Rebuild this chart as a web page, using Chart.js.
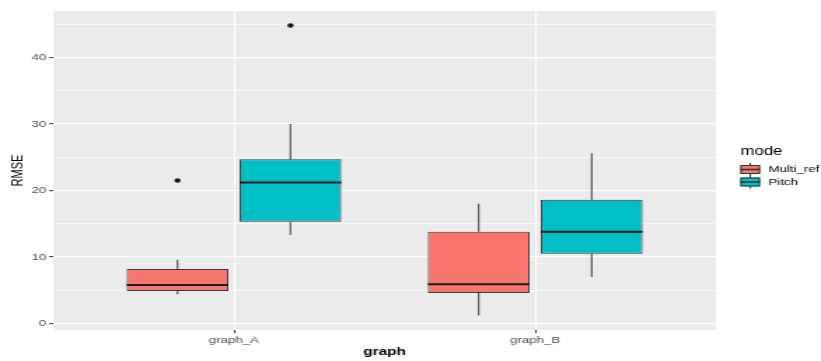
<!DOCTYPE html>
<html>
<head>
<meta charset="utf-8">
<script src="https://cdn.jsdelivr.net/npm/chart.js@4/dist/chart.umd.min.js"></script>
<style>
  html, body { margin: 0; padding: 0; background: #ffffff; overflow: hidden; }
  #wrap { width: 821px; height: 361px; overflow: hidden; position: relative; }
  #c { position: absolute; left: 0; top: 0; transform: scaleX(1.40102); transform-origin: 0 0; }
</style>
</head>
<body>
<div id="wrap"><canvas id="c" width="586" height="361"></canvas></div>
<script>
// ---- data ----
const categories = ['graph_A', 'graph_B'];
const modes = ['Multi_ref', 'Pitch'];
const modeColors = ['#F8766D', '#00BFC4'];

const multiLow     = [4.4, 1.2];
const multiQ1      = [4.9, 4.6];
const multiMedian  = [5.8, 5.9];
const multiQ3      = [8.2, 13.8];
const multiHigh    = [9.6, 18.0];
const multiOutliers = [[21.5], []];

const pitchLow     = [13.3, 7.0];
const pitchQ1      = [15.3, 10.5];
const pitchMedian  = [21.2, 13.8];
const pitchQ3      = [24.7, 18.6];
const pitchHigh    = [30.0, 25.6];
const pitchOutliers = [[44.8], []];

const yTicks = [0, 10, 20, 30, 40];
const yMinorTicks = [5, 15, 25, 35, 45];

// ---- assembled series ----
const stats = [
  { low: multiLow, q1: multiQ1, med: multiMedian, q3: multiQ3, high: multiHigh, out: multiOutliers },
  { low: pitchLow, q1: pitchQ1, med: pitchMedian, q3: pitchQ3, high: pitchHigh, out: pitchOutliers }
];

// ggplot-like dodge: 0.75 dodge width split into the modes
const dodge = 0.75;
const slot = dodge / modes.length;
function xPos(catIdx, modeIdx) {
  return (catIdx + 1) - dodge / 2 + slot * (modeIdx + 0.5);
}

// y range with 5% expansion like ggplot
const allVals = [];
stats.forEach(s => { s.low.forEach(v => allVals.push(v)); s.high.forEach(v => allVals.push(v)); s.out.forEach(a => a.forEach(v => allVals.push(v))); });
const dMin = Math.min(...allVals), dMax = Math.max(...allVals);
const yMin = dMin - 0.05 * (dMax - dMin);
const yMax = dMax + 0.05 * (dMax - dMin);

const FONT = "'Liberation Sans', Arial, Helvetica, sans-serif";

const datasets = [];
stats.forEach((s, m) => {
  datasets.push({
    type: 'bar',
    label: modes[m],
    data: categories.map((c, i) => ({ x: xPos(i, m), y: [s.q1[i], s.q3[i]] })),
    backgroundColor: modeColors[m],
    borderColor: '#3a3a3a',
    borderWidth: 1,
    borderSkipped: false,
    grouped: false,
    categoryPercentage: 1,
    barPercentage: 0.9,
    order: 2
  });
});
const outlierData = [];
stats.forEach((s, m) => {
  s.out.forEach((arr, i) => arr.forEach(v => outlierData.push({ x: xPos(i, m), y: v })));
});
datasets.push({
  type: 'scatter',
  label: 'outliers',
  data: outlierData,
  backgroundColor: '#1a1a1a',
  borderWidth: 0,
  pointRadius: 2.2,
  order: 1
});

const boxPlugin = {
  id: 'boxParts',
  beforeDraw(chart) {
    const { ctx, chartArea: a } = chart;
    ctx.save();
    ctx.fillStyle = '#EBEBEB';
    ctx.fillRect(a.left, a.top, a.right - a.left, a.bottom - a.top);
    ctx.restore();
  },
  beforeDatasetsDraw(chart) {
    const ctx = chart.ctx, y = chart.scales.y;
    ctx.save();
    ctx.strokeStyle = '#4a4a4a';
    ctx.lineWidth = 1.1;
    stats.forEach((s, m) => {
      const meta = chart.getDatasetMeta(m);
      meta.data.forEach((bar, i) => {
        ctx.beginPath();
        ctx.moveTo(bar.x, y.getPixelForValue(s.high[i]));
        ctx.lineTo(bar.x, y.getPixelForValue(s.q3[i]));
        ctx.moveTo(bar.x, y.getPixelForValue(s.q1[i]));
        ctx.lineTo(bar.x, y.getPixelForValue(s.low[i]));
        ctx.stroke();
      });
    });
    ctx.restore();
  },
  afterDatasetsDraw(chart) {
    const ctx = chart.ctx, y = chart.scales.y;
    ctx.save();
    ctx.strokeStyle = '#1a1a1a';
    ctx.lineWidth = 2;
    stats.forEach((s, m) => {
      const meta = chart.getDatasetMeta(m);
      meta.data.forEach((bar, i) => {
        const py = y.getPixelForValue(s.med[i]);
        ctx.beginPath();
        ctx.moveTo(bar.x - bar.width / 2, py);
        ctx.lineTo(bar.x + bar.width / 2, py);
        ctx.stroke();
      });
    });
    ctx.restore();
  },
  afterDraw(chart) {
    // ggplot-style legend on the right
    const ctx = chart.ctx;
    const lx = chart.chartArea.right + 17.5;
    ctx.save();
    ctx.fillStyle = '#000000';
    ctx.textBaseline = 'middle';
    ctx.textAlign = 'left';
    ctx.font = '12px ' + FONT;
    ctx.fillText('mode', lx, 152);
    modes.forEach((name, m) => {
      const cy = 169.5 + m * 12.5;
      const kx = lx, kw = 14;
      const cx = kx + kw / 2;
      ctx.strokeStyle = '#333333';
      ctx.lineWidth = 1;
      ctx.beginPath();
      ctx.moveTo(cx, cy - 6.5); ctx.lineTo(cx, cy - 4);
      ctx.moveTo(cx, cy + 4); ctx.lineTo(cx, cy + 6.5);
      ctx.stroke();
      ctx.fillStyle = modeColors[m];
      ctx.fillRect(kx, cy - 4.5, kw, 9);
      ctx.strokeRect(kx + 0.5, cy - 4, kw - 1, 8);
      ctx.lineWidth = 1.5;
      ctx.beginPath();
      ctx.moveTo(kx, cy); ctx.lineTo(kx + kw, cy);
      ctx.stroke();
      ctx.fillStyle = '#000000';
      ctx.font = '9.5px ' + FONT;
      ctx.fillText(name, kx + kw + 6, cy);
    });
    ctx.restore();
  }
};

new Chart(document.getElementById('c'), {
  type: 'bar',
  data: { datasets },
  options: {
    responsive: false,
    devicePixelRatio: 1,
    animation: false,
    layout: { padding: { top: 11, right: 75, left: 0, bottom: 0 } },
    plugins: { legend: { display: false }, tooltip: { enabled: false } },
    scales: {
      x: {
        type: 'linear',
        offset: false,
        min: 0.4,
        max: categories.length + 0.6,
        afterBuildTicks(scale) { scale.ticks = categories.map((c, i) => ({ value: i + 1 })); },
        afterFit(scale) { scale.height = 31; },
        ticks: {
          callback: (v) => categories[Math.round(v) - 1],
          color: '#4D4D4D',
          font: { family: FONT, size: 9.5 },
          padding: 2,
          maxRotation: 0,
          autoSkip: false
        },
        grid: { offset: false, color: '#FFFFFF', lineWidth: 1, tickColor: '#333333', tickLength: 3, tickWidth: 1 },
        border: { display: false },
        title: { display: true, text: 'graph', color: '#000000', font: { family: FONT, size: 11, weight: 'bold' }, padding: { top: 0, bottom: 2 } }
      },
      y: {
        type: 'linear',
        min: yMin,
        max: yMax,
        afterBuildTicks(scale) {
          scale.ticks = yTicks.concat(yMinorTicks).sort((a, b) => a - b).map(v => ({ value: v }));
        },
        afterFit(scale) { scale.width = 38; },
        ticks: {
          callback: (v) => (yTicks.includes(v) ? String(v) : ''),
          color: '#4D4D4D',
          font: { family: FONT, size: 9.5 },
          padding: 2,
          autoSkip: false
        },
        grid: {
          color: '#FFFFFF',
          lineWidth: (c) => (c.tick && yTicks.includes(c.tick.value) ? 1.3 : 0.6),
          tickColor: (c) => (c.tick && yTicks.includes(c.tick.value) ? '#333333' : 'rgba(0,0,0,0)'),
          tickLength: 3,
          tickWidth: 1
        },
        border: { display: false },
        title: { display: true, text: 'RMSE', color: '#000000', font: { family: FONT, size: 11 }, padding: { top: 6, bottom: 0 } }
      }
    }
  },
  plugins: [boxPlugin]
});
</script>
</body>
</html>
